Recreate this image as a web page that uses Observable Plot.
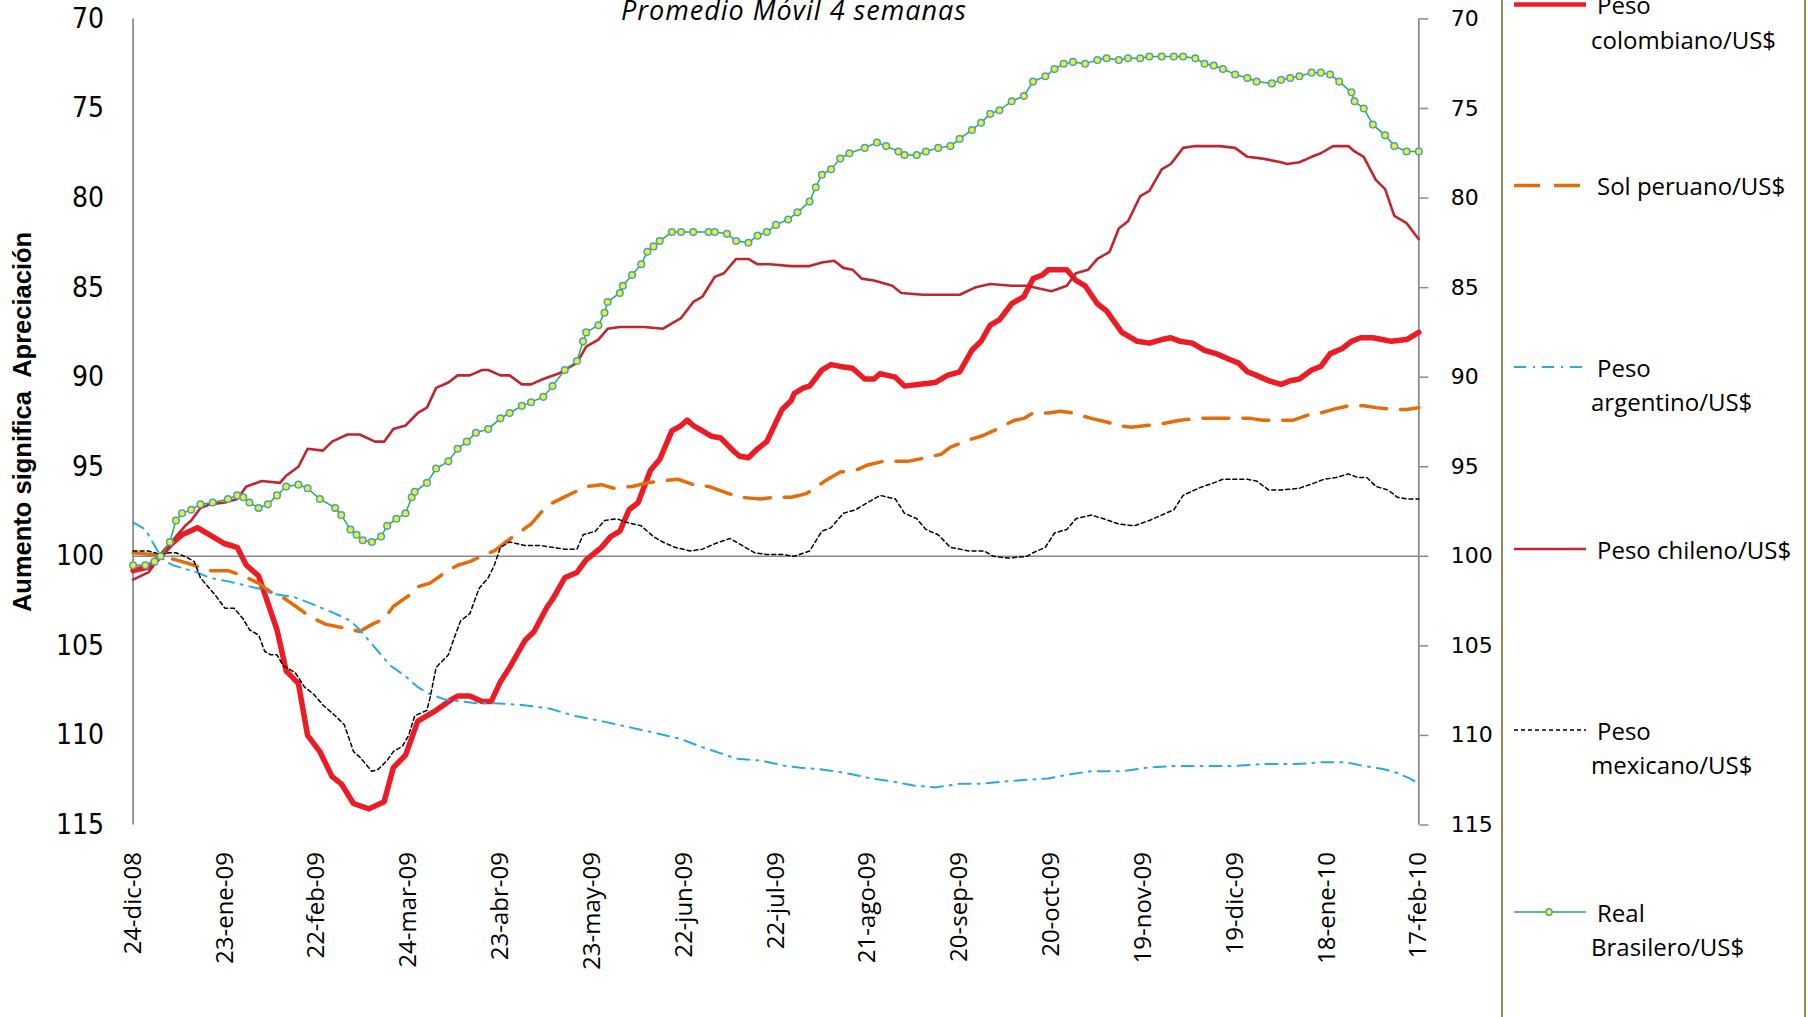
<!DOCTYPE html>
<html><head><meta charset="utf-8">
<script src="https://cdn.jsdelivr.net/npm/d3@7"></script>
<script src="https://cdn.jsdelivr.net/npm/@observablehq/plot@0.6"></script>
<style>
html,body{margin:0;padding:0;background:#fff;}
#wrap{position:relative;width:1808px;height:1017px;overflow:hidden;background:#fff;}
#chart{position:absolute;left:0;top:0;}
#overlay{position:absolute;left:0;top:0;pointer-events:none;}
</style></head><body>
<div id="wrap"><div id="chart"></div><svg id="overlay" width="1808" height="1017"></svg></div>
<script>
// ---------- data (day offset from 24-dic-08, index value) ----------
const baseDate = "2008-12-24";
const endDay = 420;
const tickDays = [0,30,60,90,120,150,180,210,240,270,300,330,360,390,420];
const tickLabels = ["24-dic-08","23-ene-09","22-feb-09","24-mar-09","23-abr-09","23-may-09","22-jun-09","22-jul-09","21-ago-09","20-sep-09","20-oct-09","19-nov-09","19-dic-09","18-ene-10","17-feb-10"];
const yTicks = [70,75,80,85,90,95,100,105,110,115];
const titleText = "Promedio Móvil 4 semanas";
const yTitle = "Aumento significa\u00a0 Apreciación";
const seriesNames = ["Peso colombiano/US$","Sol peruano/US$","Peso argentino/US$","Peso chileno/US$","Peso mexicano/US$","Real Brasilero/US$"];
const legendLines = [["Peso","colombiano/US$"],["Sol peruano/US$"],["Peso","argentino/US$"],["Peso chileno/US$"],["Peso","mexicano/US$"],["Real","Brasilero/US$"]];

const colombia = [[0,100.8],[5,100.6],[9,100.0],[12,99.4],[16,98.8],[21,98.4],[25,98.8],[30,99.3],[34,99.5],[37,100.5],[41,101.1],[44,102.6],[47,104.1],[50,106.4],[54,107.1],[57,110.0],[61,110.9],[65,112.3],[68,112.7],[72,113.8],[77,114.1],[82,113.7],[85,111.8],[89,111.1],[93,109.2],[99,108.6],[104,108.0],[106,107.8],[110,107.8],[114,108.1],[117,108.1],[120,107.0],[123,106.2],[128,104.7],[131,104.2],[135,102.9],[137,102.4],[141,101.2],[145,100.9],[148,100.2],[153,99.5],[156,98.9],[159,98.6],[162,97.4],[165,97.0],[169,95.2],[172,94.6],[176,93.0],[179,92.7],[181,92.4],[183,92.7],[185,92.9],[189,93.3],[192,93.4],[196,94.1],[198,94.4],[201,94.5],[204,94.0],[207,93.6],[212,91.8],[215,91.3],[216,90.9],[219,90.6],[221,90.5],[225,89.6],[228,89.3],[231,89.4],[235,89.5],[239,90.1],[242,90.1],[244,89.8],[249,90.0],[252,90.5],[257,90.4],[262,90.3],[266,89.9],[270,89.7],[274,88.5],[277,88.0],[280,87.1],[283,86.8],[287,85.9],[291,85.5],[294,84.5],[297,84.3],[299,84.0],[305,84.0],[308,84.6],[311,84.9],[315,85.9],[318,86.3],[323,87.5],[325,87.7],[328,88.0],[332,88.1],[336,87.9],[339,87.8],[342,88.0],[346,88.1],[350,88.5],[354,88.7],[358,89.0],[361,89.2],[364,89.7],[367,89.9],[371,90.2],[375,90.4],[378,90.2],[381,90.1],[385,89.6],[388,89.4],[391,88.7],[395,88.4],[398,88.0],[401,87.8],[405,87.8],[408,87.9],[411,88.0],[416,87.9],[420,87.5]];

const peru = [[0,99.8],[6,99.9],[9,100.0],[14,100.2],[20,100.5],[24,100.8],[31,100.8],[36,101.1],[41,101.5],[45,102.0],[49,102.3],[54,102.9],[58,103.4],[63,103.8],[69,104.0],[74,104.2],[78,103.8],[82,103.5],[85,102.8],[90,102.2],[93,101.7],[97,101.5],[102,100.9],[106,100.5],[110,100.3],[115,99.9],[118,99.7],[121,99.3],[125,98.8],[130,98.2],[133,97.6],[136,97.1],[142,96.6],[148,96.1],[153,96.0],[157,96.2],[163,96.1],[168,95.9],[172,95.8],[178,95.7],[183,96.0],[188,96.1],[193,96.4],[198,96.7],[205,96.8],[210,96.7],[215,96.7],[220,96.5],[226,95.8],[231,95.3],[236,95.2],[240,94.9],[245,94.7],[253,94.7],[259,94.5],[264,94.3],[267,93.9],[273,93.5],[277,93.3],[281,93.0],[288,92.4],[291,92.3],[294,92.0],[299,92.0],[303,91.9],[307,92.0],[313,92.3],[318,92.5],[322,92.7],[326,92.8],[331,92.7],[336,92.6],[342,92.4],[348,92.3],[353,92.3],[361,92.3],[365,92.3],[369,92.4],[375,92.4],[379,92.4],[384,92.1],[388,92.0],[392,91.8],[397,91.6],[402,91.6],[406,91.7],[412,91.8],[416,91.8],[420,91.7]];

const argentina = [[0,98.1],[4,98.5],[6,99.1],[8,99.7],[10,100.2],[13,100.5],[17,100.7],[21,100.9],[25,101.2],[31,101.4],[36,101.6],[41,101.8],[46,102.1],[53,102.3],[59,102.7],[66,103.2],[71,103.6],[74,104.1],[77,104.7],[80,105.3],[84,106.1],[89,106.7],[93,107.3],[97,107.7],[102,108.0],[107,108.1],[112,108.2],[118,108.2],[127,108.3],[136,108.5],[144,108.9],[153,109.2],[161,109.5],[169,109.8],[179,110.2],[185,110.6],[192,111.0],[197,111.3],[205,111.4],[213,111.7],[218,111.8],[225,111.9],[233,112.1],[241,112.4],[249,112.6],[255,112.8],[262,112.9],[270,112.7],[277,112.7],[283,112.6],[290,112.5],[299,112.4],[305,112.2],[313,112.0],[323,112.0],[331,111.8],[340,111.7],[351,111.7],[360,111.7],[369,111.6],[380,111.6],[388,111.5],[396,111.5],[402,111.7],[409,111.9],[413,112.1],[417,112.4],[419,112.6]];

const chile = [[0,101.3],[5,100.9],[9,100.0],[13,99.1],[17,98.3],[19,98.0],[22,97.3],[25,97.1],[30,97.0],[34,96.8],[37,96.1],[42,95.8],[48,95.9],[50,95.5],[54,95.0],[57,94.0],[62,94.1],[65,93.6],[70,93.2],[74,93.2],[79,93.6],[82,93.6],[85,92.9],[89,92.7],[93,92.0],[96,91.7],[99,90.6],[103,90.3],[106,89.9],[110,89.9],[114,89.6],[116,89.6],[120,89.9],[123,89.9],[127,90.4],[130,90.4],[134,90.1],[139,89.8],[142,89.5],[145,89.2],[148,88.3],[152,87.9],[155,87.3],[159,87.2],[167,87.2],[173,87.3],[176,87.0],[179,86.7],[183,85.8],[186,85.5],[190,84.4],[193,84.2],[197,83.4],[201,83.4],[204,83.7],[208,83.7],[215,83.8],[221,83.8],[225,83.6],[229,83.5],[232,83.9],[235,84.0],[238,84.5],[242,84.6],[248,84.9],[251,85.3],[258,85.4],[262,85.4],[270,85.4],[275,85.0],[280,84.8],[287,84.9],[292,84.9],[300,85.2],[305,84.9],[308,84.2],[312,84.0],[315,83.4],[319,83.0],[322,81.7],[325,81.3],[329,79.9],[332,79.6],[336,78.4],[339,78.1],[343,77.2],[347,77.1],[351,77.1],[355,77.1],[360,77.2],[364,77.7],[369,77.8],[375,78.0],[377,78.1],[381,78.0],[385,77.7],[388,77.5],[392,77.1],[397,77.1],[399,77.4],[402,77.7],[406,79.0],[409,79.5],[412,81.0],[416,81.4],[420,82.3]];

const mexico = [[0,99.7],[5,99.7],[9,99.9],[12,99.8],[14,99.8],[18,100.1],[20,100.3],[22,101.2],[24,101.6],[27,102.2],[30,102.9],[33,102.9],[36,103.5],[38,104.1],[41,104.4],[43,105.3],[45,105.5],[47,105.5],[49,106.1],[53,106.5],[56,107.3],[59,107.7],[62,108.3],[66,108.9],[69,109.4],[72,110.9],[74,111.2],[78,112.0],[80,111.9],[83,111.4],[85,110.9],[88,110.6],[90,110.0],[92,108.9],[96,108.6],[97,107.9],[99,106.2],[103,105.5],[105,104.5],[107,103.6],[110,103.2],[113,101.8],[116,101.2],[118,100.5],[120,99.5],[123,99.2],[128,99.4],[133,99.4],[137,99.5],[141,99.6],[145,99.6],[147,98.8],[151,98.6],[154,98.0],[158,97.9],[161,98.1],[166,98.3],[170,98.9],[173,99.2],[177,99.5],[182,99.7],[186,99.6],[190,99.3],[195,99.0],[198,99.3],[203,99.8],[207,99.9],[212,99.9],[216,100.0],[221,99.7],[225,98.6],[228,98.4],[232,97.6],[236,97.4],[240,97.0],[244,96.6],[249,96.8],[252,97.6],[256,97.9],[259,98.5],[263,98.8],[267,99.5],[273,99.7],[278,99.7],[281,100.0],[286,100.1],[292,100.0],[294,99.8],[298,99.5],[301,98.7],[305,98.5],[308,97.9],[313,97.7],[317,97.9],[322,98.2],[327,98.3],[332,98.0],[336,97.7],[340,97.4],[343,96.6],[348,96.2],[353,95.9],[356,95.7],[364,95.7],[367,95.8],[371,96.3],[375,96.3],[381,96.2],[386,95.9],[389,95.7],[393,95.6],[397,95.4],[400,95.6],[403,95.6],[406,96.1],[410,96.3],[413,96.7],[416,96.8],[420,96.8]];

const brasil = [[0,100.5],[4,100.5],[7,100.3],[9,100.0],[12,99.2],[14,98.0],[16,97.6],[19,97.4],[22,97.1],[26,97.0],[31,96.8],[34,96.6],[36,96.7],[38,97.0],[41,97.3],[44,97.1],[47,96.6],[50,96.1],[54,96.0],[57,96.2],[61,96.8],[66,97.3],[68,97.7],[71,98.5],[73,98.8],[75,99.1],[78,99.2],[81,98.9],[83,98.3],[86,97.9],[89,97.6],[91,96.7],[92,96.4],[96,95.9],[99,95.1],[103,94.7],[106,94.0],[109,93.6],[112,93.1],[116,92.9],[120,92.3],[123,92.0],[127,91.6],[130,91.4],[134,91.1],[137,90.5],[141,89.6],[145,89.1],[147,88.0],[148,87.5],[152,87.1],[154,86.4],[155,85.8],[159,85.3],[160,84.9],[163,84.3],[166,83.7],[168,83.0],[170,82.7],[172,82.4],[176,81.9],[179,81.9],[183,81.9],[188,81.9],[190,81.9],[194,82.0],[197,82.4],[201,82.5],[204,82.1],[207,81.9],[210,81.5],[214,81.2],[217,80.8],[221,80.2],[223,79.4],[225,78.7],[228,78.4],[231,77.8],[234,77.5],[239,77.2],[243,76.9],[246,77.1],[250,77.4],[252,77.6],[256,77.6],[259,77.4],[263,77.2],[267,77.1],[270,76.7],[274,76.2],[277,75.8],[280,75.3],[283,75.1],[287,74.6],[291,74.3],[294,73.5],[298,73.2],[301,72.8],[304,72.5],[307,72.4],[311,72.5],[315,72.3],[318,72.2],[322,72.3],[325,72.2],[329,72.2],[332,72.1],[336,72.1],[340,72.1],[343,72.1],[347,72.2],[350,72.5],[353,72.6],[356,72.8],[360,73.1],[364,73.3],[367,73.5],[372,73.6],[375,73.4],[378,73.3],[381,73.2],[385,73.0],[388,73.0],[391,73.1],[394,73.5],[398,74.1],[399,74.6],[402,75.0],[405,75.9],[409,76.5],[412,77.1],[416,77.4],[420,77.4]];

// ---------- build ----------
const base = new Date(baseDate + "T00:00:00Z");
const toDate = d => d3.utcDay.offset(base, d);
const rows = arr => arr.map(([d, v]) => ({date: toDate(d), value: v}));
const tickDateObjs = tickDays.map(toDate);
const labelOf = new Map(tickDateObjs.map((d, i) => [+d, tickLabels[i]]));
const x0 = toDate(0), x1 = toDate(endDay);

const styles = [
  {stroke: "#ED1C24", strokeWidth: 5.5},
  {stroke: "#E46C0A", strokeWidth: 3.5, strokeDasharray: "26,14"},
  {stroke: "#25AAE1", strokeWidth: 2, strokeDasharray: "12,7,2,7"},
  {stroke: "#C0262D", strokeWidth: 2.6},
  {stroke: "#000000", strokeWidth: 1.5, strokeDasharray: "4,3"},
  {stroke: "#22B14C", strokeWidth: 1.5}
];
const seriesData = [colombia, peru, argentina, chile, mexico, brasil].map(rows);
const axisGray = "#8a8a8a";

const plot = Plot.plot({
  width: 1500,
  height: 1017,
  marginLeft: 132.6,
  marginRight: 81.7,
  marginTop: 18.4,
  marginBottom: 192.5,
  style: {background: "white", overflow: "visible"},
  x: {type: "utc", domain: [x0, x1], label: null},
  y: {domain: [70, 115], reverse: true, label: null},
  marks: [
    Plot.ruleY([100], {stroke: axisGray, strokeWidth: 1.5}),
    Plot.ruleX([x0], {stroke: axisGray, strokeWidth: 1.75}),
    Plot.ruleX([x1], {stroke: axisGray, strokeWidth: 1.75}),
    ...seriesData.map((d, i) => Plot.line(d, {x: "date", y: "value", strokeLinejoin: "round", ...styles[i]})),
    Plot.dot(seriesData[5], {x: "date", y: "value", r: 3.3, stroke: "#45A2BE", fill: "#F2EC2C", strokeWidth: 1.5}),
    Plot.axisY({anchor: "left", ticks: yTicks, tickSize: 0, tickPadding: 29, fontSize: 28, fontFamily: "'Liberation Sans Narrow', 'DejaVu Sans Condensed', sans-serif", label: null}),
    Plot.axisY({anchor: "right", ticks: yTicks, tickSize: 9, tickPadding: 23, stroke: axisGray, strokeWidth: 1.5, fontSize: 22, fontFamily: "'DejaVu Sans', sans-serif", label: null}),
    Plot.axisX({anchor: "bottom", ticks: tickDateObjs, tickFormat: d => labelOf.get(+d), tickRotate: -90, tickSize: 0, tickPadding: 27, fontSize: 24, fontFamily: "'Open Sans', sans-serif", label: null}),
    Plot.text([yTitle], {frameAnchor: "left", textAnchor: "middle", lineAnchor: "middle", dx: -110, rotate: -90, fontSize: 25.5, fontWeight: "bold", fontFamily: "'Liberation Sans', sans-serif", fill: "#000"})
  ]
});
document.getElementById("chart").appendChild(plot);

// ---------- title & legend overlay ----------
const ov = d3.select("#overlay");
ov.append("text").attr("x", 794).attr("y", 20).attr("text-anchor", "middle")
  .attr("font-family", "'Open Sans', sans-serif").attr("font-style", "italic").attr("font-size", 27)
  .attr("letter-spacing", 1).attr("fill", "#000").text(titleText);

ov.append("rect").attr("x", 1502).attr("y", -10).attr("width", 303).attr("height", 1040)
  .attr("fill", "none").attr("stroke", "#948A54").attr("stroke-width", 2);

const legendY = [4.6, 185.5, 367, 549, 730, 912];
legendLines.forEach((lines, i) => {
  const y = legendY[i];
  const s = styles[i];
  ov.append("line").attr("x1", 1514).attr("x2", 1586).attr("y1", y).attr("y2", y)
    .attr("stroke", s.stroke).attr("stroke-width", Math.min(s.strokeWidth, 4.5))
    .attr("stroke-dasharray", s.strokeDasharray || null);
  if (i === 5) {
    ov.append("circle").attr("cx", 1549).attr("cy", y).attr("r", 3.2)
      .attr("fill", "#F2EC2C").attr("stroke", "#45A2BE").attr("stroke-width", 1.4);
  }
  lines.forEach((t, j) => {
    ov.append("text").attr("x", j === 0 ? 1597 : 1591).attr("y", y + j * 34.6)
      .attr("dominant-baseline", "central")
      .attr("font-family", "'Open Sans', sans-serif").attr("font-size", 24).attr("fill", "#000")
      .text(t);
  });
});
</script>
</body></html>
